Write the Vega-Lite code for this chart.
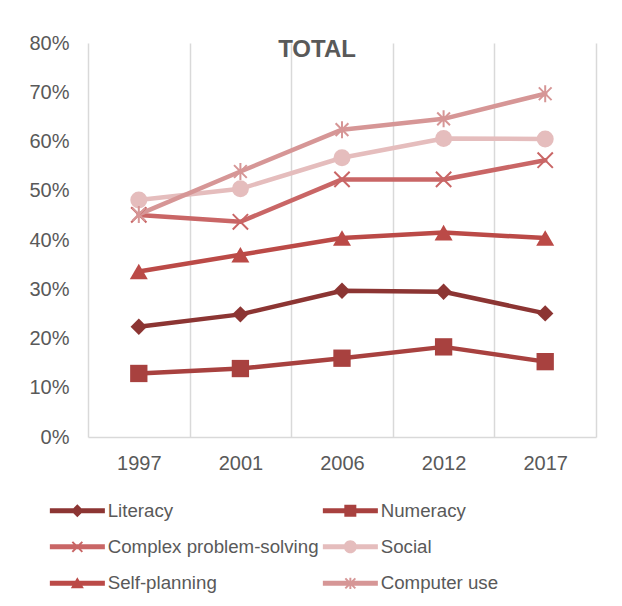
{
  "$schema": "https://vega.github.io/schema/vega-lite/v6.json",
  "width": 508,
  "height": 394,
  "autosize": {"type": "none"},
  "padding": {"left": 88, "top": 43, "right": 26, "bottom": 169},
  "background": "#ffffff",
  "config": {"font": "Liberation Sans", "view": {"stroke": null}},
  "title": {"text": "TOTAL", "fontSize": 24, "fontWeight": "bold", "color": "#595959", "font": "Liberation Sans", "anchor": "middle", "frame": "group", "dx": -25, "offset": 0, "dy": 48, "baseline": "alphabetic"},
  "data": {"values": [
    {"series": "Literacy", "year": "1997", "value": 0.224},
    {"series": "Literacy", "year": "2001", "value": 0.249},
    {"series": "Literacy", "year": "2006", "value": 0.297},
    {"series": "Literacy", "year": "2012", "value": 0.295},
    {"series": "Literacy", "year": "2017", "value": 0.251},
    {"series": "Numeracy", "year": "1997", "value": 0.129},
    {"series": "Numeracy", "year": "2001", "value": 0.139},
    {"series": "Numeracy", "year": "2006", "value": 0.160},
    {"series": "Numeracy", "year": "2012", "value": 0.183},
    {"series": "Numeracy", "year": "2017", "value": 0.153},
    {"series": "Complex problem-solving", "year": "1997", "value": 0.451},
    {"series": "Complex problem-solving", "year": "2001", "value": 0.437},
    {"series": "Complex problem-solving", "year": "2006", "value": 0.523},
    {"series": "Complex problem-solving", "year": "2012", "value": 0.523},
    {"series": "Complex problem-solving", "year": "2017", "value": 0.562},
    {"series": "Social", "year": "1997", "value": 0.481},
    {"series": "Social", "year": "2001", "value": 0.504},
    {"series": "Social", "year": "2006", "value": 0.567},
    {"series": "Social", "year": "2012", "value": 0.606},
    {"series": "Social", "year": "2017", "value": 0.605},
    {"series": "Self-planning", "year": "1997", "value": 0.336},
    {"series": "Self-planning", "year": "2001", "value": 0.370},
    {"series": "Self-planning", "year": "2006", "value": 0.404},
    {"series": "Self-planning", "year": "2012", "value": 0.415},
    {"series": "Self-planning", "year": "2017", "value": 0.404},
    {"series": "Computer use", "year": "1997", "value": 0.452},
    {"series": "Computer use", "year": "2001", "value": 0.539},
    {"series": "Computer use", "year": "2006", "value": 0.624},
    {"series": "Computer use", "year": "2012", "value": 0.646},
    {"series": "Computer use", "year": "2017", "value": 0.697}
  ]},
  "encoding": {
    "x": {"field": "year", "type": "nominal", "bandPosition": 0.5,
      "scale": {"type": "band", "paddingInner": 0, "paddingOuter": 0},
      "axis": {"title": null, "labelAngle": 0, "ticks": false, "tickBand": "extent", "grid": true, "gridColor": "#D9D9D9", "gridWidth": 1.5, "domainColor": "#D9D9D9", "domainWidth": 1.5, "labelFontSize": 20, "labelColor": "#595959", "labelPadding": 16}},
    "y": {"field": "value", "type": "quantitative",
      "scale": {"domain": [0, 0.8], "nice": false},
      "axis": {"title": null, "format": ".0%", "values": [0, 0.1, 0.2, 0.3, 0.4, 0.5, 0.6, 0.7, 0.8], "grid": false, "ticks": false, "domain": false, "labelFontSize": 20, "labelColor": "#595959", "labelPadding": 19}},
    "color": {"field": "series", "type": "nominal",
      "scale": {"domain": ["Literacy", "Numeracy", "Complex problem-solving", "Social", "Self-planning", "Computer use"],
                "range": ["#8C3533", "#A8413F", "#C96666", "#E5BDBD", "#BB4A47", "#D69696"]},
      "legend": {"orient": "none", "legendX": -41.5, "legendY": 458, "columns": 2, "direction": "horizontal", "title": null,
        "labelFontSize": 18.7, "labelColor": "#595959", "labelFont": "Liberation Sans", "labelLimit": 400,
        "symbolSize": 144, "symbolStrokeWidth": 0, "symbolOpacity": 1, "labelOffset": 42.5, "rowPadding": 16.5, "columnPadding": 0, "padding": 0,
        "symbolType": {"expr": "datum.value === 'Literacy' ? 'M-1,-0.42H8.17V0.42H-1ZM3.58,-1.08L4.67,0L3.58,1.08L2.5,0Z' : datum.value === 'Numeracy' ? 'M-1,-0.42H8.17V0.42H-1ZM2.58,-1H4.58V1H2.58Z' : datum.value === 'Social' ? 'M-1,-0.42H8.17V0.42H-1ZM2.5,0A1.08,1.08 0 1,1 4.67,0A1.08,1.08 0 1,1 2.5,0Z' : datum.value === 'Self-planning' ? 'M-1,-0.42H8.17V0.42H-1ZM3.58,-1L4.67,0.83H2.5Z' : datum.value === 'Complex problem-solving' ? 'M-1,-0.42H8.17V0.42H-1ZM2.87,-0.95L4.53,0.72L4.3,0.95L2.63,-0.72ZM2.63,0.72L4.3,-0.95L4.53,-0.72L2.87,0.95Z' : 'M-1,-0.42H8.17V0.42H-1ZM2.87,-0.95L4.53,0.72L4.3,0.95L2.63,-0.72ZM2.63,0.72L4.3,-0.95L4.53,-0.72L2.87,0.95ZM3.42,-0.95H3.75V0.95H3.42Z'"}
      }}
  },
  "layer": [
    {"mark": {"type": "line", "strokeWidth": 4.5, "strokeCap": "round", "strokeJoin": "round"}},
    {"transform": [{"filter": {"field": "series", "equal": "Literacy"}}],
     "mark": {"type": "point", "filled": true, "size": 270, "opacity": 1, "shape": "diamond"}},
    {"transform": [{"filter": {"field": "series", "equal": "Numeracy"}}],
     "mark": {"type": "point", "filled": true, "size": 300, "opacity": 1, "shape": "square"}},
    {"transform": [{"filter": {"field": "series", "equal": "Complex problem-solving"}}],
     "mark": {"type": "point", "filled": true, "size": 289, "opacity": 1, "shape": "M-0.817,-0.983L0.983,0.817L0.817,0.983L-0.983,-0.817ZM-0.983,0.817L0.817,-0.983L0.983,-0.817L-0.817,0.983Z"}},
    {"transform": [{"filter": {"field": "series", "equal": "Social"}}],
     "mark": {"type": "point", "filled": true, "size": 289, "opacity": 1, "shape": "circle"}},
    {"transform": [{"filter": {"field": "series", "equal": "Self-planning"}}],
     "mark": {"type": "point", "filled": true, "size": 324, "opacity": 1, "shape": "triangle-up"}},
    {"transform": [{"filter": {"field": "series", "equal": "Computer use"}}],
     "mark": {"type": "point", "filled": true, "size": 289, "opacity": 1, "shape": "M-0.667,-0.833L0.833,0.667L0.667,0.833L-0.833,-0.667ZM-0.833,0.667L0.667,-0.833L0.833,-0.667L-0.667,0.833ZM-0.118,-1H0.118V1H-0.118Z"}}
  ]
}
